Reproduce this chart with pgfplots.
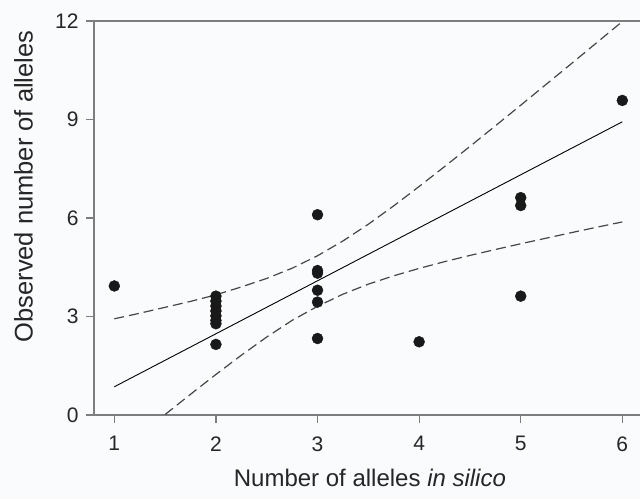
\documentclass[border=0pt]{standalone}
\usepackage{pgfplots}
\pgfplotsset{compat=1.18}
\usepackage{fontspec}
\setmainfont{Liberation Sans}
\definecolor{axgray}{RGB}{125,125,125}
\definecolor{dashgray}{RGB}{70,70,70}
\definecolor{dot}{RGB}{25,25,25}
\definecolor{bg}{RGB}{250,251,252}
\begin{document}
\begin{tikzpicture}
\fill[bg] (-94pt,-84pt) rectangle (546pt,415pt);
\begin{axis}[
  at={(0,0)}, anchor=south west,
  scale only axis, width=546pt, height=394pt,
  xmin=0.8, xmax=6.174, ymin=0, ymax=12,
  axis x line*=box, axis y line*=left,
  xtick pos=bottom, ytick pos=left,
  xtick={1,2,3,4,5,6}, ytick={0,3,6,9,12},
  tick align=outside, major tick length=8pt,
  axis line style={axgray, line width=1.3pt},
  every tick/.style={axgray, line width=1.2pt},
  /pgf/number format/assume math mode=true,
  tick label style={font=\fontsize{21}{25}\selectfont, text=black!85},
  xticklabel style={yshift=-10pt},
  yticklabel style={xshift=-4pt},
  xlabel={Number of alleles \textit{in silico}},
  ylabel={Observed number of alleles},
  every axis x label/.style={at={(axis description cs:0.5053,-0.1827)}, anchor=base, font=\fontsize{24}{28}\selectfont, text=black!85},
  every axis y label/.style={at={(axis description cs:-0.1126,0.58)}, rotate=90, anchor=base, font=\fontsize{25.5}{30}\selectfont, text=black!85},
]
% confidence bands
\addplot[dashgray, line width=1.2pt, dash pattern=on 10pt off 5pt] coordinates {
(1,2.93) (1.25,3.1) (1.5,3.28) (1.75,3.46) (2,3.66) (2.25,3.9) (2.5,4.16) (2.75,4.47) (3,4.85) (3.25,5.3) (3.5,5.81) (3.75,6.37) (4,6.96) (4.25,7.565) (4.5,8.18) (4.75,8.805) (5,9.435) (5.25,10.07) (5.5,10.705) (5.75,11.345) (6,11.985)};
\addplot[dashgray, line width=1.2pt, dash pattern=on 10pt off 5pt] coordinates {
(1.5,0.0155) (1.75,0.631) (2,1.235) (2.25,1.82) (2.5,2.375) (2.75,2.883) (3,3.31) (3.25,3.68) (3.5,3.985) (3.75,4.24) (4,4.465) (4.25,4.67) (4.5,4.86) (4.75,5.04) (5,5.215) (5.25,5.385) (5.5,5.555) (5.75,5.72) (6,5.88)};
% regression line
\addplot[black, line width=0.9pt] coordinates {(1,0.86) (6,8.93)};
% data
\addplot[only marks, mark=*, mark size=5.5pt, mark options={fill=dot, draw=dot}] coordinates {
(1,3.93)
(2,3.62) (2,3.47) (2,3.32) (2,3.17) (2,3.02) (2,2.88) (2,2.78) (2,2.15)
(3,6.1) (3,4.4) (3,4.32) (3,3.8) (3,3.44) (3,2.33)
(4,2.23)
(5,6.62) (5,6.38) (5,3.62)
(6,9.58)};
\end{axis}
\pgfresetboundingbox
\path[use as bounding box] (-94pt,-84pt) rectangle (546pt,415pt);
\end{tikzpicture}
\end{document}
